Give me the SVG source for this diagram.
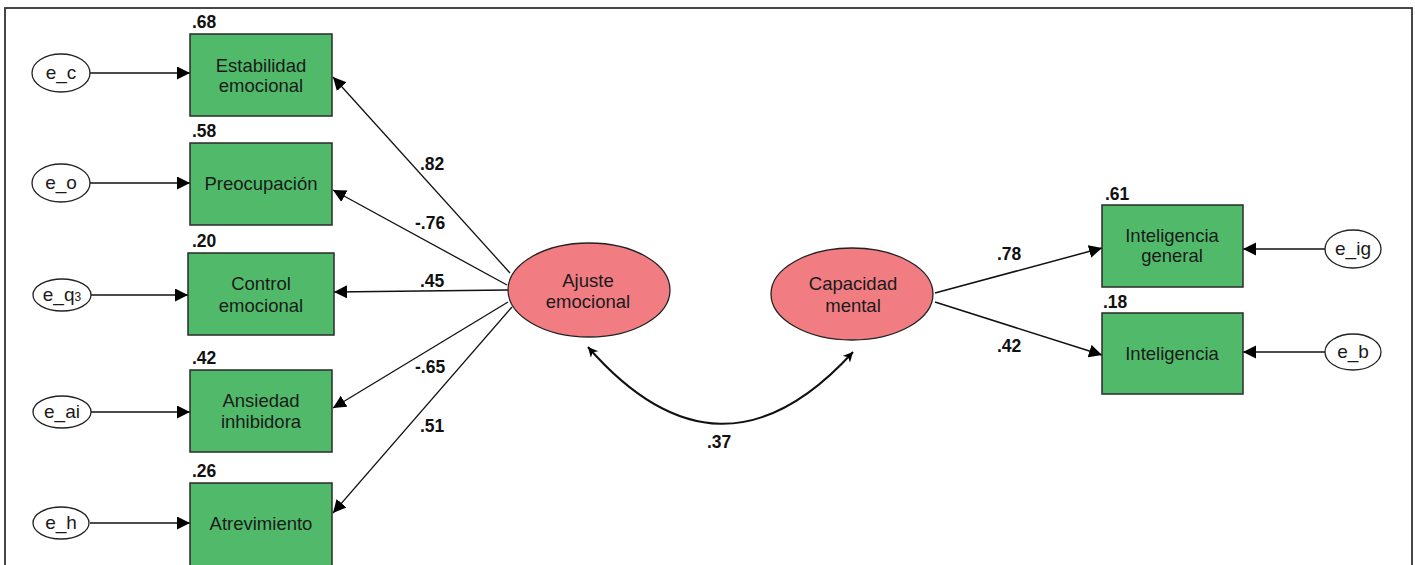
<svg xmlns="http://www.w3.org/2000/svg" width="1415" height="565" viewBox="0 0 1415 565">
<style>
.obs{fill:#50BA6A;stroke:#2a2a2a;stroke-width:1.5}
.lat{fill:#F17D83;stroke:#222;stroke-width:1.3}
.err{fill:#fff;stroke:#222;stroke-width:1.3}
.t{font-family:"Liberation Sans",Arial,sans-serif;font-size:18.5px;fill:#1a1a1a;text-anchor:middle}
.n{font-family:"Liberation Sans",Arial,sans-serif;font-size:17.5px;font-weight:bold;fill:#111}
.e{font-family:"Liberation Sans",Arial,sans-serif;font-size:19px;fill:#1a1a1a;text-anchor:middle}
.ln{fill:none;stroke:#111;stroke-width:1.5}
.ld{fill:none;stroke:#111;stroke-width:1.3}
</style>
<defs>
<marker id="ah" markerUnits="userSpaceOnUse" markerWidth="14" markerHeight="14" refX="13" refY="6.5" orient="auto">
<path d="M0,0 L13,6.5 L0,13 z" fill="#000"/>
</marker>
<marker id="ao" markerUnits="userSpaceOnUse" markerWidth="12" markerHeight="12" refX="10" refY="5" orient="auto-start-reverse">
<path d="M0,0 L10,5 L0,10 L3,5 z" fill="#000"/>
</marker>
</defs>
<rect x="5" y="8" width="1407" height="570" fill="#fff" stroke="#333" stroke-width="1.8"/>

<g id="connectors">
<line class="ln" x1="90" y1="73" x2="190" y2="73" marker-end="url(#ah)"/>
<line class="ln" x1="90" y1="183" x2="190" y2="183" marker-end="url(#ah)"/>
<line class="ln" x1="91" y1="295" x2="188" y2="295" marker-end="url(#ah)"/>
<line class="ln" x1="91" y1="412" x2="190" y2="412" marker-end="url(#ah)"/>
<line class="ln" x1="90" y1="523" x2="190" y2="523" marker-end="url(#ah)"/>
<line class="ld" x1="510" y1="273" x2="333" y2="77" marker-end="url(#ah)"/>
<line class="ld" x1="507" y1="285" x2="333" y2="190" marker-end="url(#ah)"/>
<line class="ld" x1="508" y1="290" x2="334" y2="292" marker-end="url(#ah)"/>
<line class="ld" x1="508" y1="302" x2="333" y2="408" marker-end="url(#ah)"/>
<line class="ld" x1="512" y1="307" x2="333" y2="513" marker-end="url(#ah)"/>
<line class="ln" x1="935" y1="293" x2="1102" y2="248" marker-end="url(#ah)"/>
<line class="ln" x1="935" y1="302" x2="1102" y2="355" marker-end="url(#ah)"/>
<line class="ln" x1="1325" y1="249" x2="1243" y2="249" marker-end="url(#ah)"/>
<line class="ln" x1="1325" y1="352" x2="1243" y2="352" marker-end="url(#ah)"/>
<path d="M588,347 Q720,498 853,352" fill="none" stroke="#111" stroke-width="2" marker-start="url(#ao)" marker-end="url(#ao)"/>
<text class="n" x="420" y="170">.82</text>
<text class="n" x="415" y="229">-.76</text>
<text class="n" x="420" y="287">.45</text>
<text class="n" x="415" y="373">-.65</text>
<text class="n" x="420" y="432">.51</text>
<text class="n" x="997" y="260">.78</text>
<text class="n" x="997" y="352">.42</text>
<text class="n" x="707" y="448">.37</text>
</g>

<g id="e_c"><ellipse class="err" cx="61" cy="73" rx="29" ry="19"/><text class="e" x="61" y="79">e_c</text></g>
<g id="e_o"><ellipse class="err" cx="61" cy="183" rx="29" ry="19"/><text class="e" x="61" y="189">e_o</text></g>
<g id="e_q3"><ellipse class="err" cx="62" cy="295" rx="29" ry="16"/><text class="e" x="62" y="301">e_q<tspan font-size="12">3</tspan></text></g>
<g id="e_ai"><ellipse class="err" cx="62" cy="412" rx="29" ry="16"/><text class="e" x="62" y="418">e_ai</text></g>
<g id="e_h"><ellipse class="err" cx="61" cy="523" rx="28" ry="16"/><text class="e" x="61" y="529">e_h</text></g>

<g id="estabilidad"><rect class="obs" x="190" y="34" width="142" height="82"/><text class="t" x="261" y="72">Estabilidad</text><text class="t" x="261" y="92">emocional</text><text class="n" x="192" y="28">.68</text></g>
<g id="preocupacion"><rect class="obs" x="190" y="143" width="142" height="82"/><text class="t" x="261" y="190">Preocupación</text><text class="n" x="192" y="137">.58</text></g>
<g id="control"><rect class="obs" x="188" y="253" width="146" height="82"/><text class="t" x="261" y="290">Control</text><text class="t" x="261" y="312">emocional</text><text class="n" x="192" y="247">.20</text></g>
<g id="ansiedad"><rect class="obs" x="190" y="370" width="142" height="82"/><text class="t" x="261" y="407">Ansiedad</text><text class="t" x="261" y="428">inhibidora</text><text class="n" x="192" y="364">.42</text></g>
<g id="atrevimiento"><rect class="obs" x="190" y="483" width="142" height="84"/><text class="t" x="261" y="530">Atrevimiento</text><text class="n" x="192" y="477">.26</text></g>

<g id="ajuste"><ellipse class="lat" cx="589" cy="290" rx="81" ry="47"/><text class="t" x="588" y="287">Ajuste</text><text class="t" x="588" y="308">emocional</text></g>
<g id="capacidad"><ellipse class="lat" cx="852" cy="294" rx="81" ry="46"/><text class="t" x="853" y="290">Capacidad</text><text class="t" x="853" y="312">mental</text></g>

<g id="intgeneral"><rect class="obs" x="1102" y="205" width="141" height="82"/><text class="t" x="1172" y="242">Inteligencia</text><text class="t" x="1172" y="262">general</text><text class="n" x="1105" y="200">.61</text></g>
<g id="inteligencia"><rect class="obs" x="1102" y="313" width="141" height="81"/><text class="t" x="1172" y="360">Inteligencia</text><text class="n" x="1103" y="308">.18</text></g>

<g id="e_ig"><ellipse class="err" cx="1353" cy="249" rx="28" ry="19"/><text class="e" x="1353" y="255">e_ig</text></g>
<g id="e_b"><ellipse class="err" cx="1353" cy="352" rx="28" ry="18"/><text class="e" x="1353" y="358">e_b</text></g>
</svg>
